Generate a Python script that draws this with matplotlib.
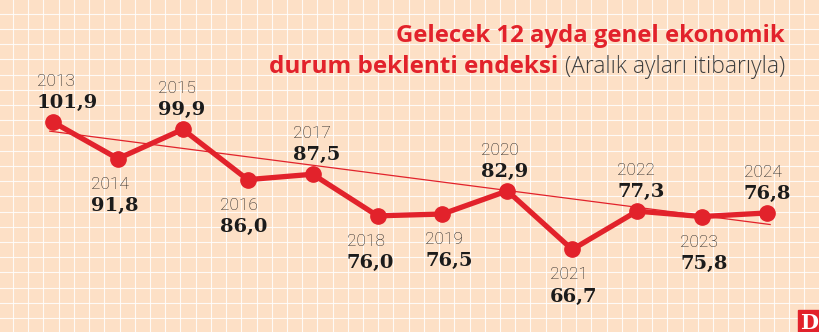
import numpy as np
import matplotlib
matplotlib.use("Agg")
import matplotlib.pyplot as plt

# ---- data (December readings) ----
years = [2013, 2014, 2015, 2016, 2017, 2018, 2019, 2020, 2021, 2022, 2023, 2024]
values = [101.9, 91.8, 99.9, 86.0, 87.5, 76.0, 76.5, 82.9, 66.7, 77.3, 75.8, 76.8]
value_labels = ["101,9", "91,8", "99,9", "86,0", "87,5", "76,0",
                "76,5", "82,9", "66,7", "77,3", "75,8", "76,8"]
label_above = [True, False, True, False, True, False,
               False, True, False, True, False, True]
# trend line as drawn in the graphic (start / end values)
trend_years = [2012.95, 2024.05]
trend_values = [99.4, 73.6]

title_line1 = "Gelecek 12 ayda genel ekonomik"
title_line2_bold = "durum beklenti endeksi"
title_line2_light = "(Aralık ayları itibarıyla)"

# layout: horizontal nudge of each label block (pixels, left edge vs point)
label_dx = [-16, -27, -25, -28, -20, -31, -17, -26, -22, -20, -22, -23]

RED = "#E2222B"
BG = "#FDE0C6"
W, H, DPI = 820, 332, 100

fig = plt.figure(figsize=(W / DPI, H / DPI), dpi=DPI)
fig.patch.set_facecolor(BG)

# background grid, drawn in pixel space
bg = fig.add_axes([0, 0, 1, 1])
bg.set_xlim(0, W)
bg.set_ylim(H, 0)
bg.set_facecolor(BG)
bg.axis("off")
for gx in np.arange(13, W, 15.22):
    bg.axvline(gx, color="white", lw=0.8, alpha=0.85, zorder=0)
for gy in np.arange(13.7, H, 15.22):
    bg.axhline(gy, color="white", lw=0.8, alpha=0.85, zorder=0)

# data axes
ax = fig.add_axes([0, 0, 1, 1])
ax.patch.set_alpha(0)
ax.set_xlim(2012.183, 2024.818)
ax.set_ylim(43.9, 135.65)
ax.axis("off")

ax.plot(trend_years, trend_values, color=RED, lw=0.9, zorder=2)
ax.plot(years, values, color=RED, lw=3.8, marker="o", ms=11,
        solid_capstyle="round", zorder=3)

for yr, v, lab, up, dx in zip(years, values, value_labels, label_above, label_dx):
    if up:
        dy_val, dy_year = 14, 36
    else:
        dy_val, dy_year = -52, -30
    ax.annotate(lab, (yr, v), xytext=(dx, dy_val), textcoords="offset pixels",
                ha="left", va="baseline", fontsize=14, fontweight="bold",
                family="DejaVu Serif", color="#1b1b1b", zorder=4)
    ax.annotate(str(yr), (yr, v), xytext=(dx, dy_year), textcoords="offset pixels",
                ha="left", va="baseline", fontsize=12.5, fontweight="light",
                family="Roboto", color="#1e1e1e", zorder=4)

# title
right = 785 / W
fig.text(right, 1 - 42 / H, title_line1, ha="right", va="baseline",
         fontsize=17.2, fontweight="bold", family="Open Sans", color=RED)
t2 = fig.text(right, 1 - 73 / H, title_line2_light, ha="right", va="baseline",
              fontsize=16.5, fontweight="light", family="Open Sans", color="#3e3e3e")
renderer = fig.canvas.get_renderer()
bb = t2.get_window_extent(renderer)
fig.text((bb.x0 - 6) / W, 1 - 73 / H, title_line2_bold, ha="right", va="baseline",
         fontsize=17.5, fontweight="bold", family="Open Sans", color=RED)

# logo
bg.add_patch(plt.Rectangle((798, 310), 22, 22, color=RED, zorder=5))
bg.text(809, 329, "D", ha="center", va="baseline", fontsize=15,
        fontweight="bold", family="DejaVu Serif", color="white", zorder=6)

fig.savefig("out.png", dpi=DPI, facecolor=BG)
